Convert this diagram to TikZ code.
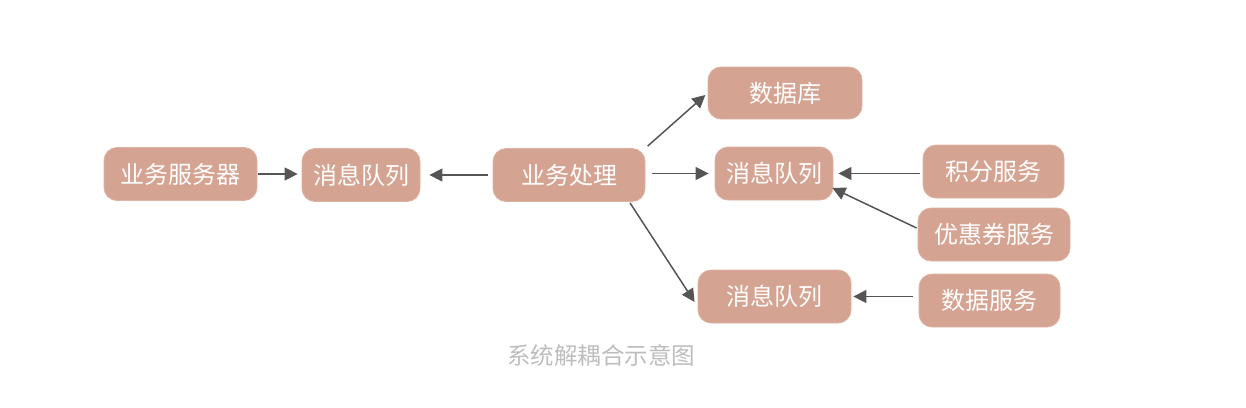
\documentclass[tikz,border=0pt]{standalone}
\usepackage{fontspec}
\newfontfamily\cjk{Noto Sans CJK SC}
\usetikzlibrary{arrows.meta,calc}
\definecolor{boxfill}{HTML}{D5A391}
\definecolor{boxline}{HTML}{DDB2A2}
\definecolor{arrowc}{HTML}{555555}
\definecolor{capc}{HTML}{BDBDBD}
\begin{document}
\begin{tikzpicture}[x=1pt,y=-1pt,
  box/.style={draw=boxline,line width=0.8pt,fill=boxfill,rounded corners=13pt,
    text=white,font=\cjk\fontsize{24}{28}\selectfont,inner sep=0pt,
    minimum height=53pt,anchor=center},
  arr/.style={draw=arrowc,line width=1.5pt,-{Triangle[length=13pt,width=13pt]}}]
\useasboundingbox (0,0) rectangle (1246,407);
\node[box,minimum width=153pt] (srv) at (180.5,174) {业务服务器};
\node[box,minimum width=118pt] (mq1) at (361,175) {消息队列};
\node[box,minimum width=152pt] (proc) at (569,175) {业务处理};
\node[box,minimum width=154pt,minimum height=52pt] (db) at (785,93) {数据库};
\node[box,minimum width=118pt] (mq2) at (774,173.5) {消息队列};
\node[box,minimum width=141pt] (jf) at (993.5,171.5) {积分服务};
\node[box,minimum width=152pt] (cp) at (994,234.5) {优惠券服务};
\node[box,minimum width=153pt] (mq3) at (774.5,296.5) {消息队列};
\node[box,minimum width=141pt] (ds) at (989.5,300.5) {数据服务};
\node[text=capc,font=\cjk\fontsize{23.5}{27}\selectfont] (cap) at (601,355) {系统解耦合示意图};

\draw[arr,shorten <=1pt,shorten >=4pt] (srv.east) -- (srv.east -| mq1.west);
\draw[arr,shorten <=5pt,shorten >=9pt] (proc.west) -- (proc.west -| mq1.east);
\draw[arr,shorten <=3pt,shorten >=3pt] (proc.north east) -- (db.west);
\draw[arr,shorten <=7pt,shorten >=6pt] (proc.east |- mq2.west) -- (mq2.west);
\draw[arr] ($(proc.south)+(61,1)$) -- ($(mq3.west)+(-3,5.5)$);
\draw[arr,shorten <=3pt,shorten >=5pt] (jf.west |- mq2.east) -- (mq2.east);
\draw[arr] ($(cp.west)+(-1,-6.5)$) -- ($(mq2.east)+(-1,14.5)$);
\draw[arr,shorten <=6pt,shorten >=2pt] (ds.west |- mq3.east) -- (mq3.east);
\end{tikzpicture}
\end{document}
